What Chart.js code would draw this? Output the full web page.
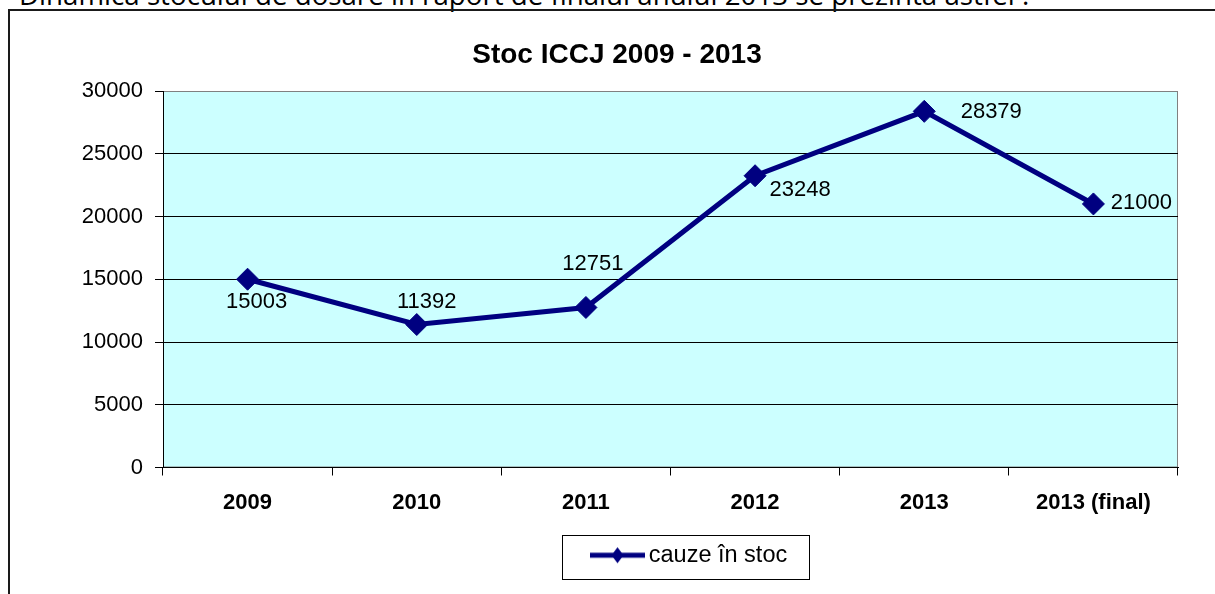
<!DOCTYPE html>
<html>
<head>
<meta charset="utf-8">
<script src="https://cdn.jsdelivr.net/npm/chart.js@4.4.1/dist/chart.umd.min.js"></script>
<style>
  html, body { margin: 0; padding: 0; background: #fff; overflow: hidden; }
  #intro { position: absolute; left: 19px; top: -18.6px; font-family: 'Open Sans', sans-serif; font-size: 27.7px; line-height: 27.7px; white-space: nowrap; color: #000; }
  #frame { position: absolute; left: 8px; top: 9px; width: 1400px; height: 800px; border-left: 2px solid #1a1a1a; border-top: 2px solid #1a1a1a; }
  #wrap { position: absolute; left: 0; top: 0; width: 1215px; height: 594px; }
</style>
</head>
<body>
<div id="intro">Dinamica stocului de dosare în raport de finalul anului 2013 se prezintă astfel :</div>
<div id="frame"></div>
<div id="wrap"><canvas id="stocChart" width="1215" height="594"></canvas></div>
<script>
const years = ['2009', '2010', '2011', '2012', '2013', '2013 (final)'];
const stoc = [15003, 11392, 12751, 23248, 28379, 21000];
const yTicks = [0, 5000, 10000, 15000, 20000, 25000, 30000];
// value label offset from its point, px
const labelShift = [[9, 23], [10, -23], [7, -44], [45, 14], [67, 1], [48, -1]];

Chart.defaults.font.family = '"Liberation Sans", Arial, sans-serif';

// legend sample: line with a diamond in the middle
const legendMark = document.createElement('canvas');
legendMark.width = 55;
legendMark.height = 18;
const lm = legendMark.getContext('2d');
lm.strokeStyle = '#000080';
lm.lineWidth = 5;
lm.beginPath(); lm.moveTo(0, 9); lm.lineTo(55, 9); lm.stroke();
lm.fillStyle = '#000080';
lm.beginPath();
lm.moveTo(27.5, 1); lm.lineTo(33.5, 9); lm.lineTo(27.5, 17); lm.lineTo(21.5, 9);
lm.closePath(); lm.fill();

const plotBg = {
  id: 'plotBg',
  beforeDraw(chart) {
    const { ctx, chartArea: a } = chart;
    ctx.save();
    ctx.fillStyle = '#CCFFFF';
    ctx.fillRect(a.left, a.top, a.right - a.left, a.bottom - a.top);
    ctx.strokeStyle = '#808080';
    ctx.lineWidth = 1;
    ctx.strokeRect(a.left + 0.5, a.top + 0.5, a.right - a.left - 1, a.bottom - a.top - 1);
    ctx.restore();
  }
};

const placeBoxes = {
  id: 'placeBoxes',
  afterLayout(chart) {
    const t = chart.titleBlock;
    t.left += 23; t.right += 23;
    const lg = chart.legend;
    const pad = lg.options.labels.padding;
    const start = (lg.left + pad + lg.right - lg.lineWidths[0]) / 2;
    const dx = 598 - start;
    lg.left += dx; lg.right += dx;
  }
};

const legendFrame = {
  id: 'legendFrame',
  afterDraw(chart) {
    const hb = chart.legend.legendHitBoxes[0];
    const c = chart.ctx;
    c.save();
    c.strokeStyle = '#000';
    c.lineWidth = 1;
    c.strokeRect(Math.round(hb.left - 36) + 0.5, Math.round(hb.top - 9) + 0.5, Math.round(hb.width + 58), 44);
    c.restore();
  }
};

const valueLabels = {
  id: 'valueLabels',
  afterDatasetsDraw(chart) {
    const c = chart.ctx;
    const pts = chart.getDatasetMeta(0).data;
    c.save();
    c.font = '22px "Liberation Sans", Arial, sans-serif';
    c.fillStyle = '#000';
    c.textAlign = 'center';
    c.textBaseline = 'middle';
    pts.forEach((p, i) => {
      c.fillText(String(stoc[i]), p.x + labelShift[i][0], p.y + labelShift[i][1]);
    });
    c.restore();
  }
};

const ctx = document.getElementById('stocChart').getContext('2d');
const stocChart = new Chart(ctx, {
  type: 'line',
  data: {
    labels: years,
    datasets: [{
      label: 'cauze în stoc',
      data: stoc,
      borderColor: '#000080',
      backgroundColor: '#000080',
      borderWidth: 5,
      tension: 0,
      pointStyle: 'rectRot',
      pointRadius: 11,
      pointBorderWidth: 1,
      pointBackgroundColor: '#000080',
      pointBorderColor: '#000080',
      clip: false
    }]
  },
  options: {
    responsive: false,
    animation: false,
    events: [],
    layout: { padding: { left: 10, top: 11, right: 37, bottom: 17 } },
    plugins: {
      title: {
        display: true,
        text: 'Stoc ICCJ 2009 - 2013',
        color: '#000',
        font: { size: 28, weight: 'bold' },
        padding: { top: 27.2, bottom: 19.2 }
      },
      legend: {
        position: 'bottom',
        labels: {
          usePointStyle: true,
          pointStyleWidth: 39,
          padding: 10,
          color: '#000',
          font: { size: 23.5 },
          generateLabels: () => [{
            text: 'cauze în stoc',
            pointStyle: legendMark,
            fillStyle: '#000080',
            strokeStyle: '#000080',
            lineWidth: 0,
            hidden: false,
            datasetIndex: 0
          }]
        }
      },
      tooltip: { enabled: false }
    },
    scales: {
      x: {
        offset: true,
        grid: { offset: true, drawOnChartArea: false, tickLength: 8, color: '#000' },
        border: { color: '#000' },
        ticks: { color: '#000', font: { size: 22, weight: 'bold' }, padding: 14, maxRotation: 0, autoSkip: false },
        afterFit: s => { s.height = 66; }
      },
      y: {
        min: yTicks[0],
        max: yTicks[yTicks.length - 1],
        afterBuildTicks: s => { s.ticks = yTicks.map(v => ({ value: v })); },
        ticks: { color: '#000', font: { size: 22 }, padding: 12, callback: v => String(v) },
        grid: {
          color: c => (c.tick && c.tick.value === yTicks[yTicks.length - 1]) ? '#808080' : '#000',
          tickColor: '#000',
          tickLength: 8
        },
        border: { color: '#000' },
        afterFit: s => { s.width = 153; }
      }
    }
  },
  plugins: [plotBg, placeBoxes, legendFrame, valueLabels]
});
</script>
</body>
</html>
